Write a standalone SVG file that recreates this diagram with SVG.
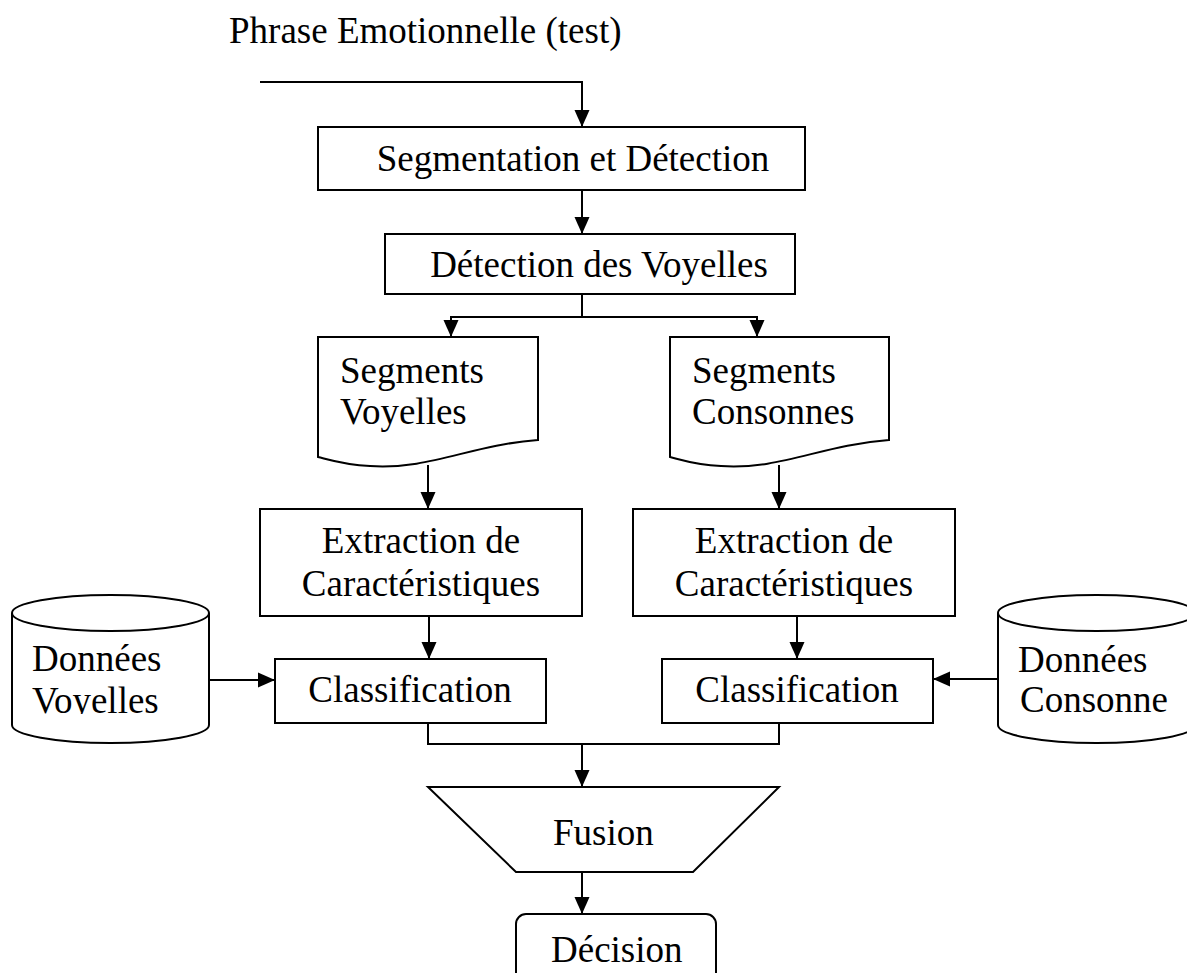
<svg xmlns="http://www.w3.org/2000/svg" width="1187" height="973" viewBox="0 0 1187 973">
<defs>
<style>
.s{fill:#fff;stroke:#000;stroke-width:2}
.c{fill:none;stroke:#000;stroke-width:2}
.t{font-family:"Liberation Serif","Times New Roman",serif;font-size:37px;fill:#000}
.m{text-anchor:middle}
</style>
<marker id="ah" markerUnits="userSpaceOnUse" markerWidth="18" markerHeight="16" refX="17" refY="8" orient="auto">
<path d="M0,0.5 L17,8 L0,15.5 z" fill="#000"/>
</marker>
<clipPath id="cl1"><rect x="0" y="560" width="260" height="154"/></clipPath>
<clipPath id="cl2"><rect x="980" y="560" width="207" height="154"/></clipPath>
</defs>
<rect width="1187" height="973" fill="#fff"/>
<g id="title"><text class="t" x="229" y="43">Phrase Emotionnelle (test)</text></g>
<g id="segmentation"><rect class="s" x="318" y="127" width="487" height="63"/><text class="t m" x="573" y="171">Segmentation et Détection</text></g>
<g id="detection"><rect class="s" x="385" y="234" width="410" height="60"/><text class="t m" x="599" y="277">Détection des Voyelles</text></g>
<g id="segV"><path class="s" d="M318,337 H538 V440 C470,445 430,470 370,466 C345,465 330,460 318,457 Z"/><text class="t" x="340" y="383">Segments</text><text class="t" x="340" y="424">Voyelles</text></g>
<g id="segC"><path class="s" d="M670,337 H889 V440 C821,445 781,470 721,466 C696,465 682,460 670,457 Z"/><text class="t" x="692" y="383">Segments</text><text class="t" x="692" y="424">Consonnes</text></g>
<g id="extV"><rect class="s" x="260" y="509" width="322" height="107"/><text class="t m" x="421" y="553">Extraction de</text><text class="t m" x="421" y="596">Caractéristiques</text></g>
<g id="extC"><rect class="s" x="633" y="509" width="322" height="107"/><text class="t m" x="794" y="553">Extraction de</text><text class="t m" x="794" y="596">Caractéristiques</text></g>
<g id="clsV"><rect class="s" x="275" y="659" width="271" height="64"/><text class="t m" x="410" y="702">Classification</text></g>
<g id="clsC"><rect class="s" x="662" y="659" width="271" height="64"/><text class="t m" x="797" y="702">Classification</text></g>
<g id="dbV"><path class="s" d="M12,613 V725 A98.5,18 0 0 0 209,725 V613"/><ellipse class="s" cx="110.5" cy="613" rx="98.5" ry="18"/><g clip-path="url(#cl1)"><text class="t" x="32" y="671">Données</text><text class="t" x="32" y="713">Voyelles</text></g></g>
<g id="dbC"><path class="s" d="M998,613 V725 A98.5,18 0 0 0 1195,725 V613"/><ellipse class="s" cx="1096.5" cy="613" rx="98.5" ry="18"/><g clip-path="url(#cl2)"><text class="t" x="1018" y="672">Données</text><text class="t" x="1020" y="712">Consonne</text></g></g>
<g id="fusion"><path class="s" d="M428,787 H779 L693,872 H516 Z"/><text class="t" x="553" y="845">Fusion</text></g>
<g id="decision"><rect class="s" x="516" y="914" width="200" height="80" rx="10"/><text class="t" x="551" y="962">Décision</text></g>
<g id="connectors">
<path class="c" d="M260,82 H582 V127" marker-end="url(#ah)"/>
<path class="c" d="M582,190 V234" marker-end="url(#ah)"/>
<path class="c" d="M582,294 V317 H451 V337" marker-end="url(#ah)"/>
<path class="c" d="M582,317 H757 V337" marker-end="url(#ah)"/>
<path class="c" d="M428,465 V509" marker-end="url(#ah)"/>
<path class="c" d="M779,465 V509" marker-end="url(#ah)"/>
<path class="c" d="M429,616 V659" marker-end="url(#ah)"/>
<path class="c" d="M797,616 V659" marker-end="url(#ah)"/>
<path class="c" d="M209,680 H275" marker-end="url(#ah)"/>
<path class="c" d="M998,679 H933" marker-end="url(#ah)"/>
<path class="c" d="M428,723 V744 H779 V723"/>
<path class="c" d="M582,744 V787" marker-end="url(#ah)"/>
<path class="c" d="M582,872 V914" marker-end="url(#ah)"/>
</g>
</svg>
